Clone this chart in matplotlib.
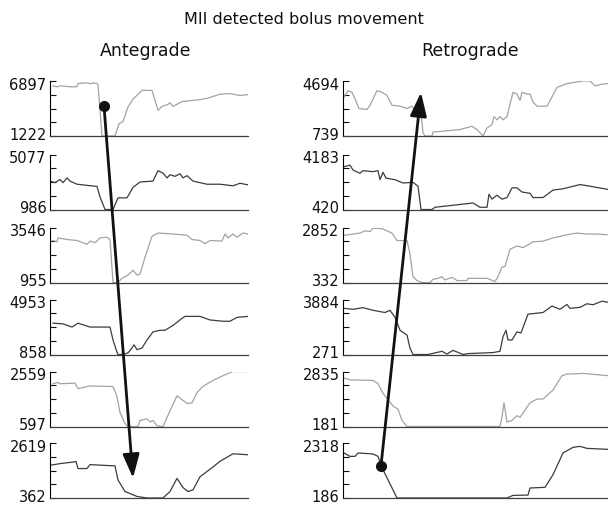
import matplotlib
matplotlib.use("Agg")
import matplotlib.pyplot as plt
from matplotlib.patches import ConnectionPatch
from matplotlib.transforms import ScaledTranslation

# y-axis ranges (min, max) for each channel
ante_ranges = [(1222, 6897), (986, 5077), (955, 3546), (858, 4953), (597, 2559), (362, 2619)]
retro_ranges = [(739, 4694), (420, 4183), (332, 2852), (271, 3884), (181, 2835), (186, 2318)]

# antegrade traces (time, impedance)
a1_t = [3, 8, 10, 15, 20, 27, 28, 38, 40, 43, 47, 48, 52, 65, 69, 73, 78, 83, 92, 102, 108, 112, 118, 120, 123, 132, 150, 157, 170, 180, 190, 198]
a1_v = [6370, 6300, 6400, 6350, 6300, 6300, 6650, 6700, 6600, 6700, 6650, 6500, 1222, 1222, 2485, 2714, 4208, 5035, 5931, 5931, 3879, 4278, 4477, 4650, 4278, 4776, 4975, 5104, 5533, 5600, 5400, 5500]
a2_t = [0, 5, 10, 13, 17, 20, 27, 47, 50, 55, 63, 68, 77, 83, 90, 103, 108, 113, 117, 120, 125, 130, 133, 137, 143, 157, 170, 183, 190, 198]
a2_v = [3101, 2983, 3218, 2983, 3336, 3101, 2866, 2700, 1924, 986, 986, 1853, 1853, 2629, 3031, 3101, 3877, 3688, 3336, 3571, 3454, 3642, 3336, 3501, 3101, 2866, 2866, 2749, 2937, 2819]
a3_t = [3, 7, 8, 17, 27, 37, 40, 45, 50, 57, 60, 63, 68, 72, 78, 83, 87, 90, 95, 102, 108, 123, 137, 142, 150, 155, 160, 172, 175, 178, 183, 187, 193, 198]
a3_v = [2934, 2874, 3057, 2980, 2934, 2752, 2906, 2829, 3057, 3089, 2980, 955, 955, 1152, 1305, 1535, 1305, 1350, 2143, 3135, 3286, 3240, 3180, 2980, 2934, 2783, 2934, 2906, 3240, 3057, 3240, 3089, 3286, 3240]
a4_t = [3, 13, 22, 28, 35, 40, 60, 63, 67, 68, 73, 78, 82, 84, 87, 92, 97, 103, 110, 115, 123, 132, 135, 150, 160, 173, 180, 187, 198]
a4_v = [3190, 3140, 2901, 3190, 3024, 2901, 2901, 1941, 1024, 858, 858, 981, 1340, 1580, 1219, 1340, 1941, 2540, 2660, 2660, 3024, 3550, 3695, 3695, 3430, 3334, 3334, 3623, 3695]
a5_t = [3, 8, 10, 25, 28, 35, 40, 63, 67, 70, 75, 78, 88, 90, 97, 100, 103, 107, 113, 120, 127, 132, 137, 142, 147, 153, 163, 173, 183, 198]
a5_v = [2122, 2170, 2122, 2145, 1951, 2000, 2045, 2022, 1668, 1096, 700, 597, 597, 813, 871, 756, 813, 620, 597, 1155, 1691, 1555, 1418, 1440, 1804, 2033, 2240, 2410, 2559, 2559]
a6_t = [0, 10, 23, 26, 28, 37, 40, 65, 68, 75, 87, 97, 113, 120, 127, 133, 138, 143, 150, 163, 170, 183, 198]
a6_v = [1704, 1773, 1837, 1860, 1571, 1571, 1732, 1679, 1100, 628, 426, 362, 362, 628, 1168, 790, 628, 695, 1233, 1635, 1867, 2176, 2136]

# retrograde traces (time, impedance)
r1_t = [1, 5, 9, 12, 16, 24, 27, 34, 39, 44, 49, 57, 64, 69, 74, 78, 80, 82, 89, 90, 117, 129, 134, 140, 144, 149, 151, 154, 157, 160, 164, 170, 174, 177, 179, 184, 187, 190, 194, 204, 214, 224, 230, 240, 247, 252, 259, 265]
r1_v = [3531, 3998, 3880, 3414, 2715, 2645, 2951, 3998, 3880, 3650, 2951, 2882, 2715, 2882, 2484, 2365, 970, 739, 739, 1018, 1206, 1437, 1206, 739, 1318, 1555, 2135, 1904, 2135, 1904, 2135, 3880, 3762, 3300, 3880, 3762, 3762, 3182, 2882, 2882, 4229, 4508, 4578, 4694, 4694, 4347, 4463, 4510]
r2_t = [1, 7, 10, 17, 20, 30, 35, 37, 40, 43, 52, 60, 70, 75, 78, 89, 92, 130, 137, 144, 146, 149, 154, 159, 164, 169, 174, 179, 187, 190, 200, 210, 220, 237, 247, 265]
r2_v = [3342, 3454, 3122, 2897, 3077, 3010, 3077, 2458, 2966, 2565, 2458, 2233, 2279, 2014, 420, 420, 573, 865, 573, 573, 1462, 1130, 1396, 1130, 1237, 1901, 1901, 1615, 1529, 1237, 1237, 1748, 1837, 2126, 2014, 1792]
r3_t = [1, 17, 22, 27, 30, 39, 49, 54, 64, 67, 70, 74, 79, 87, 90, 95, 99, 102, 109, 114, 124, 125, 144, 152, 155, 159, 162, 167, 174, 180, 187, 190, 200, 210, 224, 234, 244, 254, 264]
r3_v = [2494, 2596, 2699, 2670, 2818, 2800, 2596, 2254, 2254, 1633, 598, 421, 332, 332, 479, 523, 598, 450, 569, 421, 421, 523, 523, 377, 598, 1042, 1070, 1856, 2005, 1930, 2108, 2197, 2227, 2374, 2521, 2596, 2552, 2552, 2521]
r4_t = [1, 10, 20, 30, 42, 47, 52, 57, 64, 67, 70, 85, 99, 104, 110, 120, 125, 150, 157, 160, 163, 165, 169, 174, 178, 185, 200, 209, 217, 224, 227, 237, 244, 250, 259, 265]
r4_v = [3303, 3239, 3348, 3176, 3029, 3176, 2711, 1864, 1545, 691, 271, 271, 481, 300, 545, 271, 330, 398, 481, 1437, 1864, 1226, 1226, 1755, 1690, 2921, 3029, 3456, 3239, 3558, 3303, 3370, 3603, 3540, 3774, 3700]
r5_t = [1, 7, 30, 35, 40, 45, 50, 55, 59, 64, 157, 159, 161, 164, 169, 174, 177, 187, 194, 200, 210, 214, 219, 224, 240, 265]
r5_v = [2524, 2431, 2403, 2246, 1783, 1477, 1167, 1014, 473, 181, 181, 650, 1320, 394, 473, 704, 620, 1320, 1505, 1505, 1940, 2246, 2635, 2709, 2742, 2635]
r6_t = [1, 7, 12, 15, 30, 35, 38, 54, 164, 170, 185, 187, 202, 210, 220, 230, 237, 244, 265]
r6_v = [1932, 1800, 1800, 1932, 1893, 1800, 1439, 186, 186, 287, 300, 574, 600, 1090, 1932, 2149, 2188, 2110, 2072]

ante = [(a1_t, a1_v), (a2_t, a2_v), (a3_t, a3_v), (a4_t, a4_v), (a5_t, a5_v), (a6_t, a6_v)]
retro = [(r1_t, r1_v), (r2_t, r2_v), (r3_t, r3_v), (r4_t, r4_v), (r5_t, r5_v), (r6_t, r6_v)]

# arrow ends (time, impedance): start dot -> head
ante_arrow = [(54, 4307), (83, 1180)]
retro_arrow = [(38, 1439), (78, 3880)]

light = '#a3a3a3'
dark = '#3c3c3c'
W, H = 608, 506

fig = plt.figure(figsize=(6.08, 5.06), dpi=100)

tops = [82, 155.5, 228.5, 300.5, 372.5, 444]
ph = 55


def make_col(x0, width, traces, ranges, xmax):
    axes = []
    for i, ((t, v), (lo, hi)) in enumerate(zip(traces, ranges)):
        ax = fig.add_axes([x0 / W, 1 - (tops[i] + ph) / H, width / W, ph / H])
        col = light if i % 2 == 0 else dark
        ax.plot(t, v, color=col, lw=0.9, solid_joinstyle='round')
        ax.set_xlim(0, xmax)
        ax.set_ylim(lo, hi)
        step = (hi - lo) / 4
        ax.set_yticks([lo + k * step for k in range(5)])
        ax.set_yticklabels([str(lo), '', '', '', str(hi)])
        ax.set_xticks([])
        ax.spines['top'].set_visible(False)
        ax.spines['right'].set_visible(False)
        ax.spines['left'].set_linewidth(0.8)
        ax.spines['bottom'].set_linewidth(0.9)
        ax.spines['bottom'].set_color('#404040')
        ax.tick_params(axis='y', direction='in', length=4, width=0.8,
                       labelsize=10.5, pad=2.5, colors='#111')
        ax.patch.set_alpha(0)
        # nudge end labels toward the panel, as in the original
        ticks = ax.yaxis.get_major_ticks()
        lab_lo, lab_hi = ticks[0].label1, ticks[-1].label1
        lab_lo.set_transform(lab_lo.get_transform() + ScaledTranslation(0, 3 / 100, fig.dpi_scale_trans))
        lab_hi.set_transform(lab_hi.get_transform() + ScaledTranslation(0, -2 / 100, fig.dpi_scale_trans))
        axes.append(ax)
    return axes


axL = make_col(50, 198, ante, ante_ranges, 198)
axR = make_col(343, 265, retro, retro_ranges, 265)

fig.text(304 / W, 1 - 19 / H, 'MII detected bolus movement', ha='center', va='center', fontsize=11.5, color='#111')
fig.text(146 / W, 1 - 51 / H, 'Antegrade', ha='center', va='center', fontsize=12.5, color='#111')
fig.text(470 / W, 1 - 51 / H, 'Retrograde', ha='center', va='center', fontsize=12.5, color='#111')


def draw_arrow(ax_a, ax_b, pts):
    (xa, ya), (xb, yb) = pts
    con = ConnectionPatch(xyA=(xa, ya), coordsA=ax_a.transData,
                          xyB=(xb, yb), coordsB=ax_b.transData,
                          arrowstyle='-|>,head_length=0.8,head_width=0.28',
                          mutation_scale=18, lw=2, color='#111',
                          shrinkA=0, shrinkB=0, zorder=20)
    fig.add_artist(con)
    ax_a.plot(xa, ya, 'o', ms=7, color='#111', zorder=21, clip_on=False)


draw_arrow(axL[0], axL[5], ante_arrow)
draw_arrow(axR[5], axR[0], retro_arrow)

fig.savefig('out.png', dpi=100)
